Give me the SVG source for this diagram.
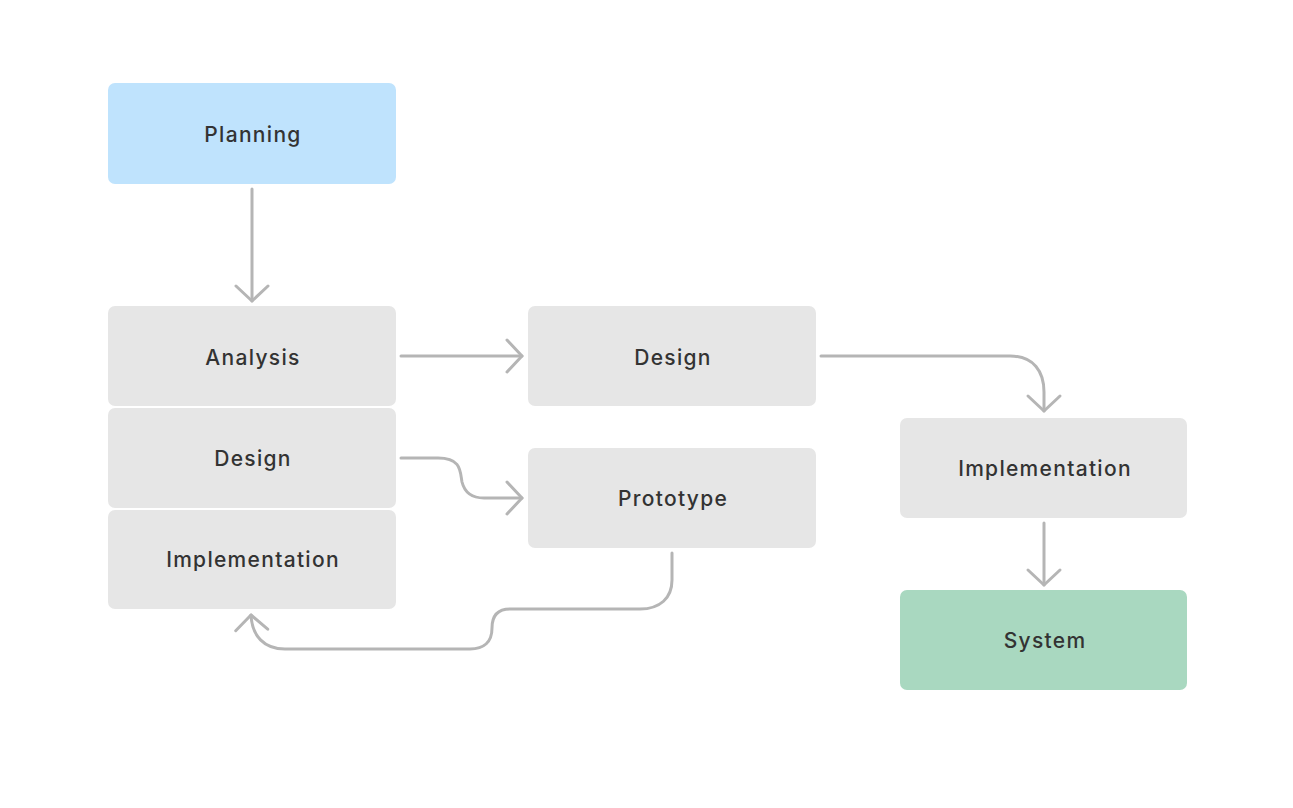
<svg xmlns="http://www.w3.org/2000/svg" width="1293" height="808" viewBox="0 0 1293 808">
<defs>
<style>
.n{fill:#e6e6e6}
.blue{fill:#bfe3fd}
.green{fill:#a9d8c0}
.t{font-family:Inter,"Liberation Sans",sans-serif;font-size:21px;font-weight:500;letter-spacing:1.3px;fill:#333;text-anchor:middle;dominant-baseline:central}
.c{fill:none;stroke:#b5b5b5;stroke-width:3;stroke-linecap:round;stroke-linejoin:round;marker-end:url(#ah)}
</style>
<marker id="ah" markerUnits="userSpaceOnUse" markerWidth="40" markerHeight="40" viewBox="-20 -20 40 40" refX="0" refY="0" orient="auto" overflow="visible">
<path d="M-15,-16 L0,0 L-15,16" fill="none" stroke="#b5b5b5" stroke-width="3" stroke-linecap="round" stroke-linejoin="round"/>
</marker>
</defs>
<rect width="1293" height="808" fill="#fff"/>
<g id="connectors">
<path class="c" d="M252,189 L252,301"/>
<path class="c" d="M401,356 L522,356"/>
<path class="c" d="M401,458 L438,458 C462,458 460,472 462,482 C465,494 474,498 484,498 L522,498"/>
<path class="c" d="M821,356 L1010,356 C1034,356 1044,372 1044,392 L1044,411"/>
<path class="c" d="M1044,523 L1044,585"/>
<path class="c" d="M672,553 L672,580 C672,598 660,609 640,609 L510,609 C496,609 492,618 492,628 C492,642 484,649 470,649 L285,649 C264,649 252,636 251,615"/>
</g>
<g id="planning"><rect class="blue" x="108" y="83" width="288" height="101" rx="7"/><text class="t" x="253" y="134">Planning</text></g>
<g id="analysis"><rect class="n" x="108" y="306" width="288" height="100" rx="7"/><text class="t" x="253" y="357">Analysis</text></g>
<g id="design-left"><rect class="n" x="108" y="408" width="288" height="100" rx="7"/><text class="t" x="253" y="458">Design</text></g>
<g id="implementation-left"><rect class="n" x="108" y="510" width="288" height="99" rx="7"/><text class="t" x="253" y="559">Implementation</text></g>
<g id="design-mid"><rect class="n" x="528" y="306" width="288" height="100" rx="7"/><text class="t" x="673" y="357">Design</text></g>
<g id="prototype"><rect class="n" x="528" y="448" width="288" height="100" rx="7"/><text class="t" x="673" y="498">Prototype</text></g>
<g id="implementation-right"><rect class="n" x="900" y="418" width="287" height="100" rx="7"/><text class="t" x="1045" y="468">Implementation</text></g>
<g id="system"><rect class="green" x="900" y="590" width="287" height="100" rx="7"/><text class="t" x="1045" y="640">System</text></g>
</svg>
